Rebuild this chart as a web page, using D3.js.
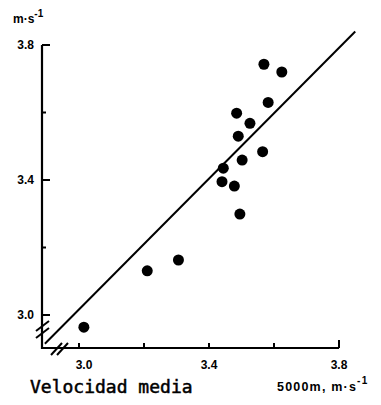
<!DOCTYPE html>
<html><head><meta charset="utf-8">
<script src="https://cdn.jsdelivr.net/npm/d3@7"></script>
<style>body{margin:0;background:#fff}svg{display:block}</style>
</head><body>
<svg id="c" width="381" height="405"></svg>
<script>
const xVals = [3.569,3.624,3.582,3.485,3.526,3.490,3.565,3.502,3.444,3.440,3.478,3.495,3.306,3.210,3.015];
const yVals = [3.743,3.720,3.630,3.598,3.568,3.530,3.484,3.459,3.435,3.395,3.382,3.299,3.163,3.131,2.964];
const xTicks = [3.0,3.2,3.4,3.6,3.8];
const xTickLabels = ["3.0","3.4","3.8"];
const yTicks = [3.0,3.2,3.4,3.6,3.8];
const yTickLabels = ["3.0","3.4","3.8"];
const lineX = [2.895,3.85];
const lineY = [2.915,3.84];

const svg = d3.select("#c");
const x = d3.scaleLinear().domain([3.0,3.8]).range([79,339]);
const y = d3.scaleLinear().domain([3.0,3.8]).range([315,45]);
const x0 = 42, y0 = 348;
const ink = "#000";
const lab = "'Liberation Sans Narrow','Liberation Sans',Arial,sans-serif";

// axes
svg.append("path").attr("d",`M${x0},${y(3.8)}V${y0}H${x(3.8)}`)
  .attr("fill","none").attr("stroke",ink).attr("stroke-width",2.2);
// y ticks
yTicks.forEach(v=>{
  const major = yTickLabels.includes(v.toFixed(1));
  svg.append("line").attr("x1",x0).attr("x2",x0+(major?8:4)).attr("y1",y(v)).attr("y2",y(v))
    .attr("stroke",ink).attr("stroke-width",2);
});
// x ticks
xTicks.forEach(v=>{
  const len = v===3.8?8:5;
  svg.append("line").attr("x1",x(v)).attr("x2",x(v)).attr("y1",y0).attr("y2",y0-len)
    .attr("stroke",ink).attr("stroke-width",2);
});
// break marks
[0,7].forEach(dy=>{
  svg.append("line").attr("x1",36).attr("y1",331+dy).attr("x2",49).attr("y2",321+dy)
    .attr("stroke",ink).attr("stroke-width",2);
});
[0,6].forEach(dx=>{
  svg.append("line").attr("x1",51+dx).attr("y1",355).attr("x2",62+dx).attr("y2",343)
    .attr("stroke",ink).attr("stroke-width",2);
});
// tick labels
yTickLabels.forEach(t=>{
  svg.append("text").attr("x",34).attr("y",y(+t)+4).attr("text-anchor","end")
    .attr("font-family",lab).attr("font-weight","bold").attr("font-size",12).text(t);
});
xTickLabels.forEach(t=>{
  svg.append("text").attr("x",x(+t)+(t==="3.0"?5:0)).attr("y",369).attr("text-anchor","middle")
    .attr("font-family",lab).attr("font-weight","bold").attr("font-size",12).text(t);
});
// unit labels
const u1 = svg.append("text").attr("x",13).attr("y",23).attr("font-family",lab)
  .attr("font-weight","bold").attr("font-size",12);
u1.append("tspan").text("m·s");
u1.append("tspan").attr("dy",-6).attr("font-size",10).text("-1");
svg.append("text").attr("x",30).attr("y",393).attr("font-family","'DejaVu Sans Mono',monospace")
  .attr("font-size",18).attr("stroke",ink).attr("stroke-width",0.5).text("Velocidad media");
const u2 = svg.append("text").attr("x",277).attr("y",391).attr("font-family",lab)
  .attr("font-weight","bold").attr("font-size",12.5).attr("letter-spacing",1.2);
u2.append("tspan").text("5000m,  m·s");
u2.append("tspan").attr("dy",-7).attr("font-size",10).text("-1");

// regression line
svg.append("line").attr("x1",x(lineX[0])).attr("y1",y(lineY[0])).attr("x2",x(lineX[1])).attr("y2",y(lineY[1]))
  .attr("stroke",ink).attr("stroke-width",2);
// points
svg.selectAll("circle.p").data(xVals.map((v,i)=>[v,yVals[i]])).join("circle")
  .attr("class","p").attr("cx",d=>x(d[0])).attr("cy",d=>y(d[1])).attr("r",5.5).attr("fill",ink);
</script>
</body></html>
